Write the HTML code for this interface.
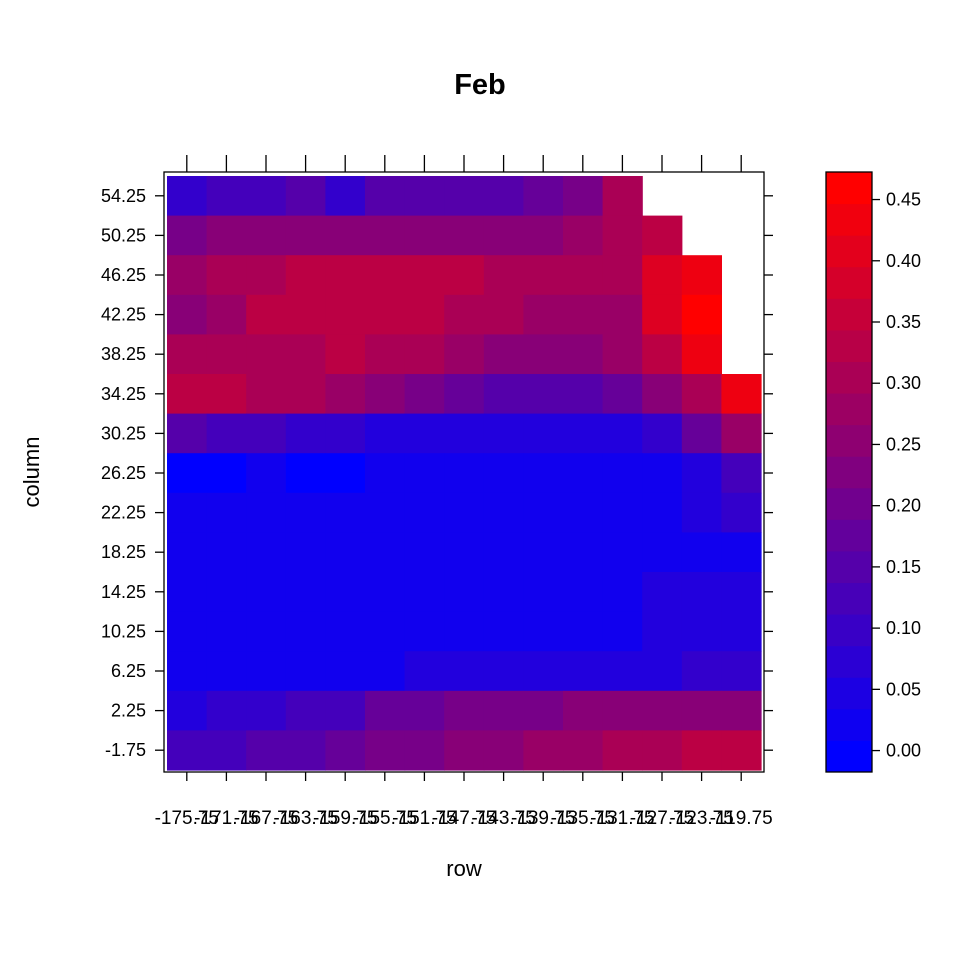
<!DOCTYPE html>
<html><head><meta charset="utf-8"><style>
html,body{margin:0;padding:0;background:#fff;}
svg{display:block;font-family:"Liberation Sans",Arial,sans-serif;}
</style></head><body>
<svg id="chart" width="960" height="960" viewBox="0 0 960 960"></svg>
<script>
const xLabels = ["-175.75","-171.75","-167.75","-163.75","-159.75","-155.75","-151.75","-147.75","-143.75","-139.75","-135.75","-131.75","-127.75","-123.75","-119.75"];
const yLabels = ["54.25","50.25","46.25","42.25","38.25","34.25","30.25","26.25","22.25","18.25","14.25","10.25","6.25","2.25","-1.75"];
const cbTicks = [0,0.05,0.10,0.15,0.20,0.25,0.30,0.35,0.40,0.45];
// rows top (54.25) to bottom (-1.75); null = missing
const row54 = [.09,.12,.12,.15,.09,.15,.15,.15,.15,.18,.215,.305,null,null,null];
const row50 = [.215,.245,.245,.245,.245,.245,.245,.245,.245,.245,.275,.305,.335,null,null];
const row46 = [.275,.305,.305,.335,.335,.335,.335,.335,.305,.305,.305,.305,.40,.43,null];
const row42 = [.245,.275,.335,.335,.335,.335,.335,.305,.305,.275,.275,.29,.40,.46,null];
const row38 = [.305,.305,.305,.305,.335,.305,.305,.275,.245,.245,.245,.275,.335,.43,null];
const row34 = [.335,.335,.305,.305,.275,.245,.215,.18,.15,.15,.15,.18,.245,.305,.43];
const row30 = [.15,.12,.12,.09,.09,.06,.06,.06,.06,.06,.06,.06,.09,.18,.275];
const row26 = [0,0,.03,0,0,.03,.03,.03,.03,.03,.03,.03,.03,.05,.12];
const row22 = [.03,.03,.03,.03,.03,.03,.03,.03,.03,.03,.03,.03,.03,.05,.09];
const row18 = [.03,.03,.03,.03,.03,.03,.03,.03,.03,.03,.03,.03,.03,.03,.03];
const row14 = [.03,.03,.03,.03,.03,.03,.03,.03,.03,.03,.03,.03,.06,.06,.06];
const row10 = [.03,.03,.03,.03,.03,.03,.03,.03,.03,.03,.03,.03,.06,.06,.06];
const row6 = [.03,.03,.03,.03,.03,.03,.06,.06,.06,.06,.06,.06,.06,.09,.09];
const row2 = [.06,.09,.09,.12,.13,.18,.18,.215,.215,.215,.245,.245,.245,.245,.245];
const rowM1 = [.12,.12,.15,.15,.18,.215,.215,.245,.245,.275,.275,.305,.305,.335,.335];
const grid = [row54,row50,row46,row42,row38,row34,row30,row26,row22,row18,row14,row10,row6,row2,rowM1];

const NS="http://www.w3.org/2000/svg";
const svg=document.getElementById('chart');
function mk(t,a,parent){const e=document.createElementNS(NS,t);for(const k in a)e.setAttribute(k,a[k]);(parent||svg).appendChild(e);return e;}
const cellL=167, cellT=176, cellW=39.6, cellH=39.6;
const xPos=i=>cellL+cellW*(i+0.5);
const yPos=j=>cellT+cellH*(j+0.5);
function color(v){let k=Math.round(v/0.46*15);k=Math.max(0,Math.min(15,k));const r=k*17;return `rgb(${r},0,${255-r})`;}

const cells=mk('g',{});


grid.forEach((row,j)=>row.forEach((v,i)=>{
  if(v===null)return;
  const r=mk('rect',{x:(xPos(i)-cellW/2).toFixed(2),y:(yPos(j)-cellH/2).toFixed(2),width:(cellW+0.6).toFixed(2),height:(cellH+0.6).toFixed(2),fill:color(v)},cells);
  
  
}));
const frame=mk('rect',{x:164,y:172,width:600,height:600,fill:'none',stroke:'#000','stroke-width':1.3});



xLabels.forEach((l,i)=>{
  const x=xPos(i);
  mk('line',{x1:x,y1:155,x2:x,y2:172,stroke:'#000','stroke-width':1.3});
  mk('line',{x1:x,y1:772,x2:x,y2:781,stroke:'#000','stroke-width':1.3});
  const t=mk('text',{x:x,y:824,'text-anchor':'middle','font-size':19});
  t.textContent=l;
  
  
});
yLabels.forEach((l,j)=>{
  const y=yPos(j);
  mk('line',{x1:155,y1:y,x2:164,y2:y,stroke:'#000','stroke-width':1.3});
  mk('line',{x1:764,y1:y,x2:773,y2:y,stroke:'#000','stroke-width':1.3});
  const t=mk('text',{x:146,y:y+6,'text-anchor':'end','font-size':18});
  t.textContent=l;
  
  
});

// colorbar
const cbMin=-0.0175, cbMax=0.4725, cbTop=172, cbBot=772, nb=19;
const cbY=v=>cbBot-(v-cbMin)/(cbMax-cbMin)*(cbBot-cbTop);
const cb=mk('g',{});


for(let k=0;k<nb;k++){
  const v0=cbMin+k*(cbMax-cbMin)/nb, v1=cbMin+(k+1)*(cbMax-cbMin)/nb;
  const r=Math.round(255*k/(nb-1));
  mk('rect',{x:826,y:cbY(v1),width:46,height:cbY(v0)-cbY(v1)+0.5,fill:`rgb(${r},0,${255-r})`},cb);
}
mk('rect',{x:826,y:172,width:46,height:600,fill:'none',stroke:'#000','stroke-width':1.3},cb);
cbTicks.forEach(v=>{
  const y=cbY(v);
  mk('line',{x1:872,y1:y,x2:880,y2:y,stroke:'#000','stroke-width':1.3},cb);
  const t=mk('text',{x:886,y:y+6,'font-size':18},cb);
  t.textContent=v.toFixed(2);
  
  
});

const title=mk('text',{x:480,y:94,'text-anchor':'middle','font-size':29,'font-weight':'bold'});
title.textContent='Feb';


const xt=mk('text',{x:464,y:876,'text-anchor':'middle','font-size':22});
xt.textContent='row';


const yt=mk('text',{x:39,y:472,'text-anchor':'middle','font-size':22,transform:'rotate(-90 39 472)'});
yt.textContent='column';


</script>
</body></html>
